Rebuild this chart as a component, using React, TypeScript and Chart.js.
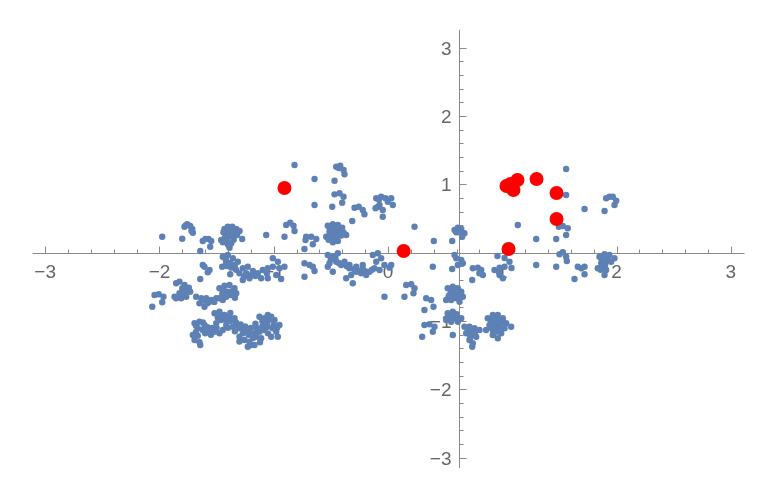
import React, { useEffect, useRef } from "react";
import { Chart, registerables } from "chart.js";

Chart.register(...registerables);

type P = [number, number];

// Blue sample points, grouped by region (data units)
const upperLeft: P[] = [
  [-1.976, 0.234], [-1.801, 0.205], [-1.781, 0.38], [-1.757, 0.416], [-1.731, 0.391],
  [-1.713, 0.347], [-1.708, 0.293], [-1.643, 0.025], [-1.621, 0.171], [-1.597, 0.2],
  [-1.571, 0.2], [-1.547, 0.171], [-1.556, 0.088], [-1.431, 0.347], [-1.402, 0.38],
  [-1.363, 0.38], [-1.328, 0.347], [-1.299, 0.317], [-1.422, 0.269], [-1.387, 0.298],
  [-1.349, 0.284], [-1.32, 0.259], [-1.358, 0.234], [-1.411, 0.186], [-1.446, 0.152],
  [-1.402, 0.123], [-1.372, 0.138], [-1.387, 0.073], [-1.276, 0.2], [-1.46, 0.186],
  [-1.066, 0.259], [-1.44, 0.3], [-1.4, 0.33], [-1.36, 0.32], [-1.33, 0.31],
  [-1.41, 0.23], [-1.38, 0.24], [-1.43, 0.21], [-1.39, 0.1], [-1.35, 0.19],
  [-1.77, 0.4], [-1.72, 0.32],
];

const upperMid: P[] = [
  [-0.818, 1.283], [-0.453, 1.258], [-0.418, 1.273], [-0.389, 1.21], [-0.381, 1.147],
  [-0.643, 1.078], [-0.468, 1.053], [-0.468, 0.854], [-0.424, 0.869], [-0.389, 0.819],
  [-0.401, 0.732], [-0.488, 0.673], [-0.643, 0.698], [-0.293, 0.658], [-0.256, 0.673],
  [-0.221, 0.625], [-0.206, 0.562], [-0.103, 0.796], [-0.06, 0.819], [-0.022, 0.796],
  [-0.002, 0.746], [-0.074, 0.698], [-0.109, 0.65], [-0.046, 0.625], [-0.046, 0.527],
  [-0.891, 0.405], [-0.856, 0.439], [-0.827, 0.395], [-0.818, 0.317], [-0.906, 0.234],
  [-0.313, 0.464], [-0.527, 0.395], [-0.483, 0.416], [-0.439, 0.405], [-0.401, 0.366],
  [-0.366, 0.259], [-0.512, 0.307], [-0.468, 0.332], [-0.424, 0.307], [-0.389, 0.298],
  [-0.541, 0.234], [-0.497, 0.211], [-0.453, 0.234], [-0.483, 0.152], [-0.439, 0.171],
  [-0.716, 0.234], [-0.672, 0.234], [-0.628, 0.2], [-0.658, 0.123], [-0.722, 0.186],
  [-0.731, 0.054], [0.028, 0.796], [0.042, 0.698], [-0.51, 0.36], [-0.47, 0.37],
  [-0.43, 0.36], [-0.49, 0.26], [-0.45, 0.27], [-0.41, 0.25], [-0.52, 0.19],
  [-0.46, 0.19], [-0.43, 1.24], [-0.08, 0.78], [-0.09, 0.67],
];

const upperRight: P[] = [
  [0.232, 0.38], [0.401, 0.171], [0.562, 0.171], [0.582, 0.332], [0.611, 0.366],
  [0.641, 0.347], [0.669, 0.284], [0.649, 0.234], [0.597, 0.298], [1.136, 0.405],
  [1.559, 1.225], [1.559, 0.844], [1.72, 0.639], [1.895, 0.61], [1.909, 0.796],
  [1.938, 0.819], [1.967, 0.819], [1.997, 0.761], [1.982, 0.698], [1.495, 0.38],
  [1.53, 0.391], [1.573, 0.357], [1.559, 0.259], [1.297, 0.2], [1.472, 0.2],
  [0.62, 0.3],
];

const lowerRight: P[] = [
  [1.501, -0.023], [1.53, 0.006], [1.559, -0.059], [1.565, -0.121], [1.297, -0.18],
  [1.472, -0.205], [1.661, -0.205], [1.691, -0.228], [1.72, -0.205], [1.72, -0.316],
  [1.632, -0.385], [1.851, -0.059], [1.895, -0.023], [1.938, -0.034], [1.982, -0.082],
  [1.953, -0.132], [1.909, -0.132], [1.866, -0.155], [1.836, -0.228], [1.88, -0.205],
  [1.909, -0.253], [1.895, -0.326], [1.063, -0.132], [1.081, -0.224], [1.078, -1.083],
  [1.87, -0.1], [1.92, -0.08], [1.9, -0.18], [1.86, -0.25],
];

const lowerMid: P[] = [
  [0.582, -0.034], [0.597, -0.082], [0.641, -0.107], [0.655, -0.155], [0.611, -0.18],
  [0.392, -0.205], [0.028, -0.18], [0.562, -0.239], [0.742, -0.228], [0.786, -0.219],
  [0.816, -0.253], [0.83, -0.326], [0.737, -0.4], [0.932, -0.253], [0.976, -0.219],
  [1.02, -0.205], [0.976, -0.326], [1.005, -0.375], [0.958, -0.048], [1.02, -0.078],
  [0.159, -0.473], [0.203, -0.462], [0.232, -0.521], [0.223, -0.594], [0.144, -0.644],
  [0.334, -0.667], [0.378, -0.692], [0.398, -0.79], [0.319, -0.839], [0.523, -0.521],
  [0.567, -0.498], [0.611, -0.521], [0.641, -0.571], [0.655, -0.644], [0.538, -0.619],
  [0.582, -0.594], [0.509, -0.692], [0.553, -0.692], [0.597, -0.667], [0.626, -0.717],
  [0.523, -0.887], [0.567, -0.863], [0.597, -0.937], [0.641, -0.96], [0.509, -0.985],
  [0.553, -1.01], [0.611, -1.01], [0.319, -1.058], [0.363, -1.048], [0.407, -1.083],
  [0.392, -1.156], [0.299, -1.229], [0.567, -1.204], [0.669, -1.083], [0.713, -1.083],
  [0.757, -1.106], [0.801, -1.131], [0.684, -1.179], [0.728, -1.204], [0.772, -1.229],
  [0.713, -1.278], [0.742, -1.326], [0.737, -1.376], [0.873, -0.96], [0.917, -0.912],
  [0.961, -0.912], [1.005, -0.96], [1.034, -1.033], [0.888, -1.058], [0.932, -1.083],
  [0.976, -1.058], [1.02, -1.106], [0.947, -1.156], [0.991, -1.179], [0.917, -1.204],
  [0.961, -1.253], [0.859, -1.131], [0.55, -0.55], [0.6, -0.56], [0.53, -0.64],
  [0.57, -0.64], [0.62, -0.62], [0.54, -0.92], [0.58, -0.96], [0.53, -0.95],
  [0.6, -0.9], [0.9, -0.98], [0.94, -0.96], [0.98, -0.98], [0.92, -1.02],
  [0.96, -1.02], [1.0, -1.02], [0.9, -1.1], [0.94, -1.13], [0.98, -1.12],
  [0.92, -1.16], [0.7, -1.13], [0.74, -1.15], [0.76, -1.17], [0.72, -1.24],
  [0.97, -0.28], [0.8, -0.3],
];

const lowerMidLeft: P[] = [
  [-1.008, -0.082], [-0.964, -0.132], [-0.731, -0.155], [-0.687, -0.18], [-0.527, -0.034],
  [-0.483, -0.059], [-0.439, -0.009], [-0.453, -0.132], [-0.512, -0.155], [-0.41, -0.18],
  [-0.381, -0.132], [-0.337, -0.18], [-0.278, -0.205], [-0.221, -0.18], [-0.133, -0.034],
  [-0.089, -0.009], [-0.06, -0.082], [-0.103, -0.132], [-0.031, -0.18], [-1.008, -0.205],
  [-0.95, -0.228], [-0.906, -0.205], [-0.978, -0.326], [-0.935, -0.385], [-0.731, -0.351],
  [-0.658, -0.205], [-0.643, -0.268], [-0.527, -0.205], [-0.483, -0.278], [-0.366, -0.375],
  [-0.322, -0.326], [-0.278, -0.278], [-0.235, -0.301], [-0.191, -0.326], [-0.162, -0.278],
  [-0.118, -0.228], [-0.074, -0.253], [0.013, -0.219], [-0.308, -0.448], [-0.337, -0.228],
  [-0.221, -0.239], [-0.031, -0.644], [-0.5, -0.1], [-0.46, -0.08], [-0.43, -0.15],
  [-0.3, -0.24], [-0.26, -0.26], [-0.2, -0.27], [-0.14, -0.25], [-0.36, -0.2],
];

const lowerLeft: P[] = [
  [-1.606, -0.205], [-1.562, -0.253], [-1.577, -0.287], [-1.621, -0.18], [-1.643, -0.385],
  [-1.446, -0.059], [-1.402, -0.034], [-1.358, -0.082], [-1.314, -0.132], [-1.416, -0.155],
  [-1.358, -0.205], [-1.451, -0.205], [-1.411, -0.195], [-1.372, -0.219], [-1.381, -0.316],
  [-1.271, -0.228], [-1.227, -0.205], [-1.183, -0.268], [-1.139, -0.301], [-1.096, -0.253],
  [-1.052, -0.228], [-1.241, -0.301], [-1.212, -0.375], [-1.271, -0.4], [-1.11, -0.375],
  [-1.052, -0.375], [-1.854, -0.448], [-1.825, -0.424], [-1.781, -0.473], [-1.743, -0.512],
  [-1.731, -0.571], [-1.766, -0.644], [-1.81, -0.667], [-1.854, -0.667], [-1.825, -0.594],
  [-1.868, -0.644], [-2.043, -0.619], [-2.006, -0.609], [-1.965, -0.644], [-1.976, -0.726],
  [-2.063, -0.79], [-1.679, -0.644], [-1.635, -0.667], [-1.591, -0.667], [-1.547, -0.692],
  [-1.503, -0.667], [-1.65, -0.741], [-1.606, -0.79], [-1.562, -0.717], [-1.475, -0.521],
  [-1.431, -0.483], [-1.387, -0.473], [-1.343, -0.521], [-1.328, -0.594], [-1.372, -0.619],
  [-1.416, -0.644], [-1.446, -0.692], [-1.475, -0.667], [-1.402, -0.571], [-1.518, -0.887],
  [-1.475, -0.863], [-1.431, -0.912], [-1.387, -0.937], [-1.343, -0.96], [-1.46, -0.985],
  [-1.503, -1.033], [-1.416, -1.058], [-1.358, -1.083], [-1.446, -1.131], [-1.693, -1.033],
  [-1.65, -1.01], [-1.606, -1.058], [-1.664, -1.106], [-1.621, -1.131], [-1.562, -1.131],
  [-1.518, -1.156], [-1.475, -1.179], [-1.708, -1.204], [-1.664, -1.215], [-1.693, -1.278],
  [-1.65, -1.311], [-1.643, -1.351], [-1.328, -1.058], [-1.3, -1.106], [-1.256, -1.131],
  [-1.212, -1.156], [-1.168, -1.179], [-1.125, -1.156], [-1.081, -1.131], [-1.052, -1.083],
  [-1.081, -0.96], [-1.125, -0.937], [-1.052, -0.912], [-1.3, -1.229], [-1.256, -1.278],
  [-1.212, -1.303], [-1.168, -1.351], [-1.227, -1.376], [-1.151, -1.229], [-1.11, -1.253],
  [-1.022, -0.937], [-0.993, -0.985], [-0.95, -1.058], [-1.008, -1.106], [-0.978, -1.156],
  [-1.022, -1.229], [-0.964, -1.229],
];

// denser cores of the lower-left clusters
const lowerLeftCores: P[] = [
  [-1.46, -0.92], [-1.42, -0.98], [-1.38, -1.0], [-1.33, -1.02], [-1.29, -1.05],
  [-1.25, -1.08], [-1.2, -1.1], [-1.15, -1.1], [-1.1, -1.08], [-1.06, -1.02],
  [-1.1, -1.0], [-1.16, -1.04], [-1.22, -1.2], [-1.18, -1.25], [-1.27, -1.18],
  [-1.34, -1.15], [-1.4, -1.1], [-1.05, -1.18], [-1.0, -1.05], [-0.97, -1.1],
  [-1.04, -0.98], [-1.49, -0.95], [-1.38, -0.88], [-1.12, -1.31], [-1.2, -1.35],
  [-1.3, -1.3], [-1.68, -1.07], [-1.62, -1.02], [-1.58, -1.09], [-1.54, -1.1],
  [-1.68, -1.16], [-1.6, -1.18], [-1.55, -1.2], [-1.5, -1.1], [-1.44, -0.55],
  [-1.4, -0.62], [-1.36, -0.56], [-1.45, -0.6], [-1.34, -0.66], [-1.8, -0.52],
  [-1.78, -0.6], [-1.76, -0.55], [-1.62, -0.7], [-1.58, -0.74], [-1.52, -0.72],
  [-1.42, -0.1], [-1.38, -0.15], [-1.33, -0.25], [-1.3, -0.3], [-1.2, -0.33],
  [-1.16, -0.34], [-1.26, -0.35], [-1.06, -0.3], [-1.34, -0.18],
];

const redPoints: P[] = [
  [-0.906, 0.947], [0.137, 0.025], [1.055, 0.054], [1.037, 0.976], [1.072, 1.005],
  [1.098, 0.918], [1.133, 1.063], [1.3, 1.078], [1.475, 0.874], [1.475, 0.493],
];

const X_TICKS = [-3, -2, -1, 0, 1, 2, 3];
const Y_TICKS = [-3, -2, -1, 1, 2, 3];
const Y_AXIS_AT_X = 0.617;

const BLUE = "rgb(94,129,181)";
const RED = "rgb(255,0,0)";
const AXIS = "#8a8a8a";
const LABEL = "#666666";

const fmt = (v: number) => (v < 0 ? "\u2212" + Math.abs(v) : String(v));

const axesPlugin = {
  id: "mmaAxes",
  beforeDatasetsDraw(chart: any) {
    const { ctx } = chart;
    const xs = chart.scales.x;
    const ys = chart.scales.y;
    const px = (v: number) => xs.getPixelForValue(v);
    const py = (v: number) => ys.getPixelForValue(v);
    ctx.save();
    ctx.strokeStyle = AXIS;
    ctx.lineWidth = 1;
    const y0 = Math.round(py(0)) + 0.5;
    const x0 = Math.round(px(Y_AXIS_AT_X)) + 0.5;
    ctx.beginPath();
    ctx.moveTo(px(-3.11), y0);
    ctx.lineTo(px(3.12), y0);
    ctx.moveTo(x0, py(3.26));
    ctx.lineTo(x0, py(-3.15));
    for (let i = -15; i <= 15; i++) {
      const v = i / 5;
      const len = i % 5 === 0 ? 7 : 4;
      const xx = Math.round(px(v)) + 0.5;
      ctx.moveTo(xx, y0);
      ctx.lineTo(xx, y0 - len);
      const yy = Math.round(py(v)) + 0.5;
      ctx.moveTo(x0, yy);
      ctx.lineTo(x0 + len, yy);
    }
    ctx.stroke();

    ctx.fillStyle = LABEL;
    ctx.font = '19px "Liberation Sans", Arial, sans-serif';
    ctx.textAlign = "center";
    ctx.textBaseline = "alphabetic";
    X_TICKS.forEach((v) => {
      ctx.fillText(fmt(v), px(v), y0 + 24.5);
    });
    ctx.textAlign = "right";
    Y_TICKS.forEach((v) => {
      ctx.fillText(fmt(v), x0 - 8, py(v) + 7);
    });
    ctx.restore();
  },
};

export default function App() {
  const ref = useRef<HTMLCanvasElement>(null);
  useEffect(() => {
    const blue = [
      ...upperLeft, ...upperMid, ...upperRight, ...lowerRight,
      ...lowerMid, ...lowerMidLeft, ...lowerLeft, ...lowerLeftCores,
    ].map(([x, y]) => ({ x, y }));
    const red = redPoints.map(([x, y]) => ({ x, y }));
    const chart = new Chart(ref.current as HTMLCanvasElement, {
      type: "scatter",
      data: {
        datasets: [
          {
            data: red,
            backgroundColor: RED,
            borderWidth: 0,
            pointRadius: 7,
          },
          {
            data: blue,
            backgroundColor: BLUE,
            borderWidth: 0,
            pointRadius: 3.2,
          },
        ],
      },
      options: {
        responsive: false,
        animation: false,
        devicePixelRatio: 1,
        layout: { padding: 0, autoPadding: false },
        plugins: { legend: { display: false }, tooltip: { enabled: false } },
        scales: {
          x: { type: "linear", min: -3.3955, max: 3.3955, display: false },
          y: { type: "linear", min: -3.619, max: 3.698, display: false },
        },
      },
      plugins: [axesPlugin],
    } as any);
    return () => chart.destroy();
  }, []);
  return (
    <div style={{ position: "fixed", left: 0, top: 0, width: 776, height: 500, background: "#fff" }}>
      <canvas ref={ref} width={776} height={500} style={{ display: "block", width: 776, height: 500 }} />
    </div>
  );
}
